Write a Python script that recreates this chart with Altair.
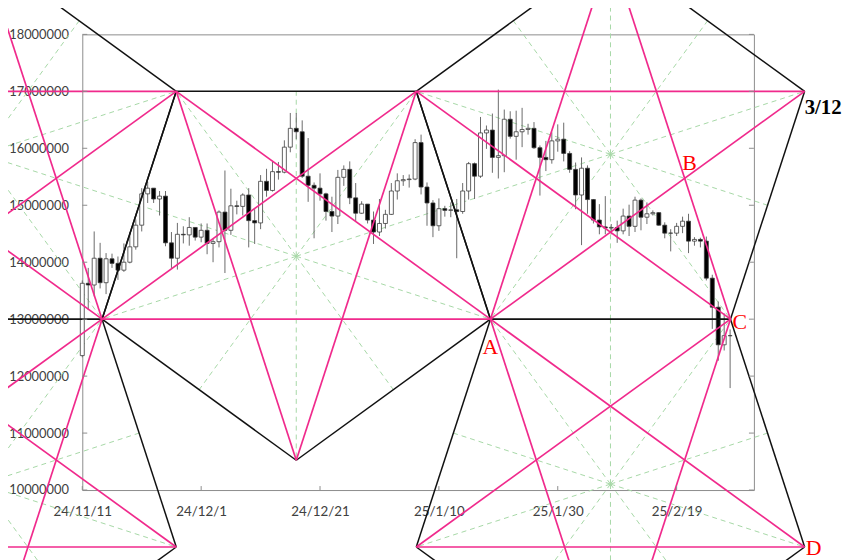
import altair as alt
import pandas as pd

# ---------------- data (prices in million JPY) ----------------
dates = pd.date_range("2024-11-11", "2025-02-28", freq="D").strftime("%Y-%m-%d").tolist()

opens = [12.36, 13.63, 13.60, 14.07, 13.64, 14.06, 13.98, 13.86, 14.00, 14.27,
         14.65, 15.20, 15.30, 15.11, 15.16, 14.34, 14.07, 14.49, 14.48, 14.61,
         14.44, 14.56, 14.33, 14.36, 14.88, 14.56, 14.99, 14.98, 15.18, 14.73,
         14.69, 15.42, 15.26, 15.59, 15.58, 16.02, 16.35, 16.29, 15.51, 15.35,
         15.30, 15.20, 14.89, 14.81, 15.49, 15.63, 15.13, 14.86, 15.02, 14.74,
         14.53, 14.68, 14.84, 15.25, 15.43, 15.45, 15.46, 16.10, 15.32, 15.04,
         14.64, 14.94, 14.91, 14.92, 14.89, 15.25, 15.73, 15.51, 16.27, 16.32,
         15.84, 15.87, 16.51, 16.21, 16.29, 16.33, 16.35, 16.01, 15.84, 15.80,
         16.13, 16.16, 15.91, 15.63, 15.18, 15.65, 15.10, 14.74, 14.62, 14.60,
         14.61, 14.55, 14.81, 14.63, 15.09, 14.79, 14.85, 14.87, 14.65, 14.51,
         14.51, 14.63, 14.72, 14.37, 14.40, 14.37, 13.72, 13.21, 12.55, 12.71]
highs = [13.68, 13.90, 14.54, 14.34, 14.16, 14.15, 14.10, 14.33, 14.52, 14.75,
         15.30, 15.41, 15.30, 15.25, 15.25, 14.53, 14.69, 14.63, 14.79, 14.61,
         14.68, 14.68, 14.41, 14.91, 15.61, 15.29, 15.08, 15.21, 15.30, 14.93,
         15.53, 15.64, 15.76, 15.76, 16.14, 16.62, 16.62, 16.49, 16.18, 15.40,
         15.56, 15.22, 15.15, 15.62, 15.70, 15.77, 15.39, 15.07, 15.02, 14.89,
         15.11, 14.92, 15.39, 15.56, 15.53, 15.54, 16.16, 16.24, 15.40, 15.09,
         15.12, 14.99, 15.05, 15.11, 15.39, 15.76, 15.75, 16.55, 16.40, 16.61,
         17.03, 16.68, 16.65, 16.66, 16.71, 16.43, 16.46, 16.05, 16.13, 16.28,
         16.42, 16.45, 15.95, 15.75, 15.84, 15.70, 15.11, 15.02, 15.16, 14.67,
         14.73, 14.94, 15.01, 15.15, 15.12, 15.05, 14.91, 14.88, 14.70, 14.58,
         14.69, 14.80, 14.85, 14.44, 14.43, 14.45, 13.78, 13.31, 13.10, 12.82]
lows = [12.33, 13.16, 13.40, 13.54, 13.44, 13.90, 13.69, 13.83, 13.98, 14.22,
        14.54, 15.04, 15.04, 14.82, 14.28, 13.90, 13.87, 14.33, 14.29, 14.38,
        14.35, 14.14, 14.00, 14.26, 13.81, 14.48, 14.84, 14.82, 14.26, 14.32,
        14.58, 15.15, 15.24, 15.45, 15.56, 15.93, 16.16, 15.48, 15.06, 14.42,
        15.08, 14.73, 14.53, 14.67, 15.34, 15.02, 14.72, 14.85, 14.68, 14.32,
        14.46, 14.59, 14.83, 15.10, 15.34, 15.31, 15.44, 15.19, 14.64, 14.44,
        14.55, 14.80, 14.79, 14.07, 14.85, 15.10, 15.11, 15.48, 15.99, 15.57,
        15.47, 15.58, 16.17, 15.80, 16.02, 16.24, 15.99, 15.17, 15.60, 15.73,
        15.94, 15.77, 15.57, 14.93, 14.30, 14.85, 14.68, 14.49, 14.49, 14.49,
        14.34, 14.49, 14.46, 14.53, 14.56, 14.67, 14.82, 14.64, 14.42, 14.19,
        14.46, 14.51, 14.16, 14.29, 14.26, 13.68, 12.83, 12.27, 12.45, 11.79]
closes = [13.63, 13.60, 14.07, 13.64, 14.06, 13.98, 13.86, 14.00, 14.27, 14.65,
          15.20, 15.30, 15.11, 15.16, 14.34, 14.07, 14.49, 14.48, 14.61, 14.44,
          14.56, 14.33, 14.36, 14.88, 14.56, 14.99, 14.98, 15.18, 14.73, 14.69,
          15.42, 15.26, 15.59, 15.58, 16.02, 16.35, 16.29, 15.51, 15.35, 15.30,
          15.20, 14.89, 14.81, 15.49, 15.63, 15.13, 14.86, 15.02, 14.74, 14.53,
          14.68, 14.84, 15.25, 15.43, 15.45, 15.46, 16.10, 15.32, 15.04, 14.64,
          14.94, 14.91, 14.92, 14.89, 15.25, 15.73, 15.51, 16.27, 16.32, 15.84,
          15.87, 16.51, 16.21, 16.29, 16.33, 16.35, 16.01, 15.84, 15.80, 16.13,
          16.16, 15.91, 15.63, 15.18, 15.65, 15.10, 14.74, 14.62, 14.60, 14.61,
          14.55, 14.81, 14.63, 15.09, 14.79, 14.85, 14.87, 14.65, 14.51, 14.51,
          14.63, 14.72, 14.37, 14.40, 14.37, 13.72, 13.21, 12.55, 12.71, 12.71]

x_tick_days = [0, 20, 40, 60, 80, 100]          # days after 2024-11-11
y_ticks = [10, 11, 12, 13, 14, 15, 16, 17, 18]  # million JPY

# pentagon vertices (day offset, million JPY)
pent_upper_right = [(88.87, 19.477), (121.54, 17.0), (109.06, 13.0), (68.675, 13.0), (56.19, 17.0)]
pent_lower_right = [(68.675, 13.0), (109.06, 13.0), (121.54, 9.0), (88.87, 6.523), (56.19, 9.0)]
pent_middle = [(15.81, 17.0), (56.19, 17.0), (68.675, 13.0), (36.0, 10.523), (3.325, 13.0)]
pent_upper_left = [(-16.86, 19.477), (15.81, 17.0), (3.325, 13.0), (-37.06, 13.0), (-49.54, 17.0)]
pent_lower_left = [(-37.06, 13.0), (3.325, 13.0), (15.81, 9.0), (-16.86, 6.523), (-49.54, 9.0)]
pentagons = [pent_upper_left, pent_lower_left, pent_middle, pent_upper_right, pent_lower_right]

# ---------------- tables ----------------
start = pd.Timestamp("2024-11-11")
candles = pd.DataFrame({
    "day": [(pd.Timestamp(d) - start).days for d in dates],
    "open": opens, "high": highs, "low": lows, "close": closes,
})

edges, stars, rays = [], [], []
for p in pentagons:
    cx = sum(v[0] for v in p) / 5
    cy = sum(v[1] for v in p) / 5
    for k in range(5):
        a, b, c = p[k], p[(k + 1) % 5], p[(k + 2) % 5]
        edges.append(dict(x1=a[0], y1=a[1], x2=b[0], y2=b[1]))
        stars.append(dict(x1=a[0], y1=a[1], x2=c[0], y2=c[1]))
        rays.append(dict(x1=cx, y1=cy, x2=a[0], y2=a[1]))
        rays.append(dict(x1=cx, y1=cy, x2=(a[0] + b[0]) / 2, y2=(a[1] + b[1]) / 2))
edges, stars, rays = pd.DataFrame(edges), pd.DataFrame(stars), pd.DataFrame(rays)


def intersect(p1, p2, p3, p4):
    (x1, y1), (x2, y2), (x3, y3), (x4, y4) = p1, p2, p3, p4
    den = (x1 - x2) * (y3 - y4) - (y1 - y2) * (x3 - x4)
    t = ((x1 - x3) * (y3 - y4) - (y1 - y3) * (x3 - x4)) / den
    return x1 + t * (x2 - x1), y1 + t * (y2 - y1)


pA = pent_upper_right[3]
pB = intersect(pent_upper_right[1], pent_upper_right[3], pent_upper_right[0], pent_upper_right[2])
pC = pent_upper_right[2]
pD = pent_lower_right[2]
p312 = pent_upper_right[1]

# ---------------- chart ----------------
W, H = 678, 460
xs = alt.Scale(domain=[0, 113], nice=False, zero=False, padding=0)
ys = alt.Scale(domain=[10, 18], nice=False, zero=False, padding=0)
AX_FONT = "Lato"
LABEL_COLOR = "#404040"
FRAME = "#8c8c8c"
PINK = "#f02a8c"
GREEN = "#a6d8a6"

x_axis = alt.Axis(
    values=x_tick_days,
    labelExpr="timeFormat(datetime(2024,10,11+datum.value),'%y/%-m/%-d')",
    tickSize=0, domain=False, grid=False, labelFlush=False, labelOverlap=False,
    labelFont=AX_FONT, labelFontSize=13.5, labelColor=LABEL_COLOR,
    labelPadding=15, title=None)
y_axis = alt.Axis(
    values=y_ticks, labelExpr="format(datum.value*1000000,'d')",
    tickSize=0, domain=False, grid=False, labelFlush=False, labelOverlap=False,
    labelFont=AX_FONT, labelFontSize=13, labelColor=LABEL_COLOR,
    labelPadding=14, title=None)


def X(field):
    return alt.X(field, scale=xs, axis=x_axis)


def Y(field):
    return alt.Y(field, scale=ys, axis=y_axis)


def segs(df, color, width, dash=None):
    kw = dict(color=color, strokeWidth=width, clip=False)
    if dash:
        kw["strokeDash"] = dash
    return alt.Chart(df).mark_rule(**kw).encode(
        x=X("x1:Q"), x2="x2:Q", y=Y("y1:Q"), y2="y2:Q")


green_layer = segs(rays, GREEN, 1, [5, 4])
black_layer = segs(edges, "#111111", 1.5)
pink_layer = segs(stars, PINK, 1.7)

wicks = alt.Chart(candles).mark_rule(color="#6a6a6a", strokeWidth=1, clip=False).encode(
    x=X("day:Q"), y=Y("low:Q"), y2="high:Q")

bodies = alt.Chart(candles).mark_bar(size=4, stroke="#3a3a3a", strokeWidth=0.8, clip=False).encode(
    x=X("day:Q"), y=Y("open:Q"), y2="close:Q",
    fill=alt.condition("datum.close >= datum.open", alt.value("white"), alt.value("black")))

yt = pd.DataFrame({"v": y_ticks})
xt = pd.DataFrame({"v": x_tick_days})
tick_left = alt.Chart(yt).mark_rule(color=FRAME).encode(
    y=Y("v:Q"), x=alt.value(0), x2=alt.value(5))
tick_right = alt.Chart(yt).mark_rule(color=FRAME).encode(
    y=Y("v:Q"), x=alt.value(W - 5), x2=alt.value(W))
tick_bottom = alt.Chart(xt).mark_rule(color=FRAME).encode(
    x=X("v:Q"), y=alt.value(H - 4), y2=alt.value(H))


def label(text, pt, align, dx, dy, color="red", size=22, weight="normal"):
    df = pd.DataFrame({"x": [pt[0]], "y": [pt[1]], "t": [text]})
    return alt.Chart(df).mark_text(
        align=align, baseline="alphabetic", dx=dx, dy=dy, color=color,
        font="Liberation Serif", fontSize=size, fontWeight=weight, clip=False
    ).encode(x=X("x:Q"), y=Y("y:Q"), text="t:N")


labels = [
    label("A", pA, "center", 0, 35),
    label("B", pB, "center", 5, -8),
    label("C", pC, "left", 2, 10),
    label("D", pD, "left", 1, 8),
    label("3/12", p312, "left", 0, 23, color="black", size=21, weight="bold"),
]

chart = alt.layer(
    green_layer, wicks, bodies, black_layer, pink_layer,
    tick_left, tick_right, tick_bottom, *labels
).properties(
    width=W, height=H,
    padding={"left": 75, "top": 24, "right": 95, "bottom": 68},
    autosize=alt.AutoSizeParams(type="none"),
    background="white",
).configure_view(stroke=FRAME, strokeWidth=1)

chart.save("out.html", embed_options={"renderer": "svg", "actions": False})
